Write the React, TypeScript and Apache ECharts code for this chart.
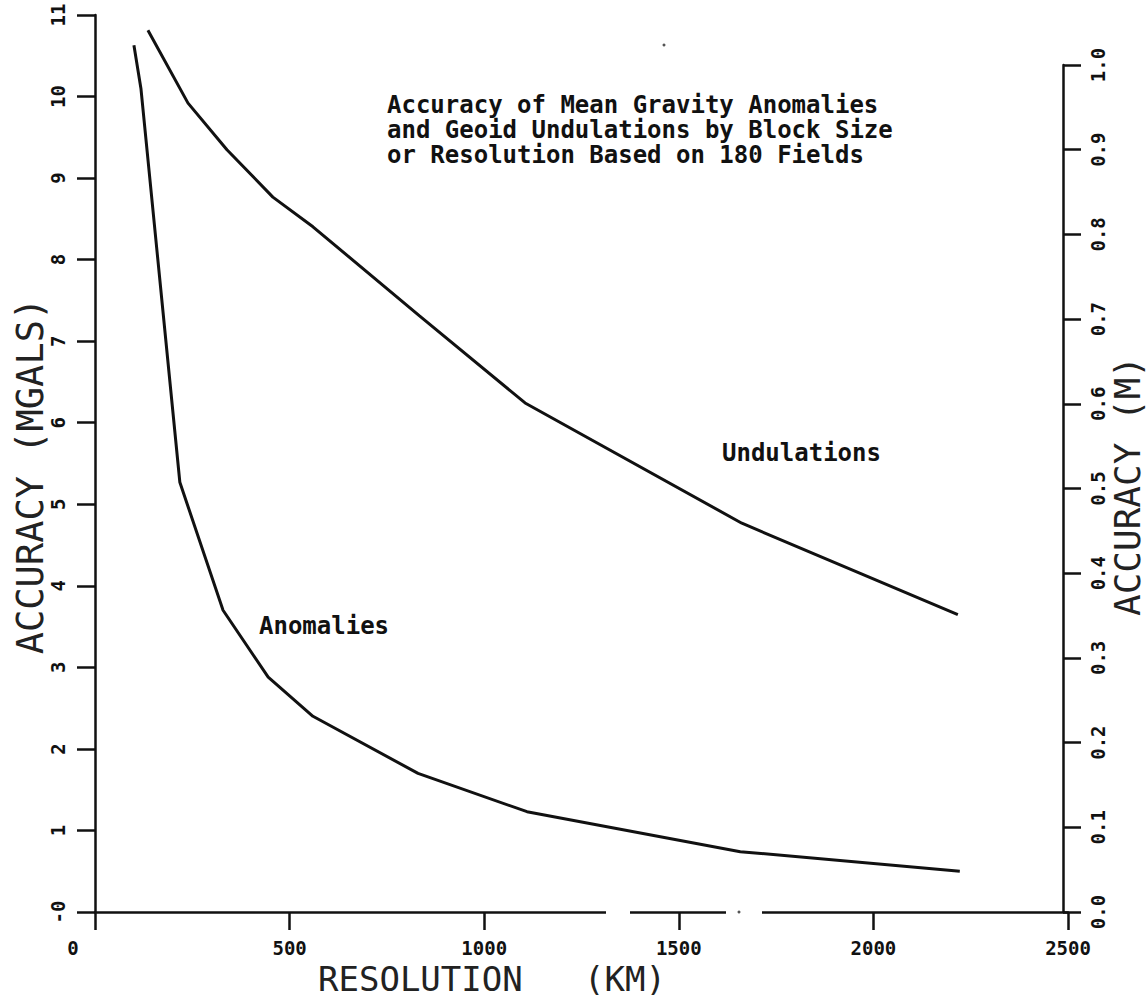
import React, { useEffect, useRef } from "react";
import * as echarts from "echarts";

// Resolution (km) and accuracy values
const anomalyKm = [100, 118, 218, 329, 445, 560, 830, 1110, 1658, 2222];
const anomalyMgal = [10.63, 10.1, 5.27, 3.7, 2.88, 2.4, 1.7, 1.23, 0.74, 0.5];

const undulationKm = [136, 239, 339, 457, 560, 833, 1105, 1662, 2217];
const undulationM = [1.041, 0.955, 0.9, 0.844, 0.809, 0.704, 0.601, 0.459, 0.351];

const xTicks = [0, 500, 1000, 1500, 2000, 2500];
const titleLines = [
  "Accuracy of Mean Gravity Anomalies",
  "and Geoid Undulations by Block Size",
  "or Resolution Based on 180 Fields",
];

const INK = "#111";
const MONO = "'DejaVu Sans Mono', monospace";

export default function App() {
  const ref = useRef<HTMLDivElement>(null);
  useEffect(() => {
    if (!ref.current) return;
    const chart = echarts.init(ref.current, null, { renderer: "svg" });
    const axisLine = { show: true, onZero: false, lineStyle: { color: INK, width: 2.5 } };
    const axisTick = { show: true, inside: false, length: 18, lineStyle: { color: INK, width: 2.5 } };
    const tickFont = { fontFamily: MONO, fontWeight: "bold" as const, fontSize: 19, color: INK };
    chart.setOption({
      animation: false,
      backgroundColor: "#fff",
      grid: [
        { left: 95, right: 78, top: 15, bottom: 86, containLabel: false, outerBoundsMode: "none" },
        { left: 95, right: 78, top: 65, bottom: 86, containLabel: false, outerBoundsMode: "none" },
      ],
      xAxis: [
        {
          type: "value",
          gridIndex: 0,
          min: xTicks[0],
          max: xTicks[xTicks.length - 1],
          interval: 500,
          axisLine,
          axisTick,
          splitLine: { show: false },
          axisLabel: {
            ...tickFont,
            margin: 26,
            formatter: (v: number) => (v === 0 ? "{min|0}" : String(v)),
            rich: { min: { ...tickFont, padding: [0, 44, 0, 0] } },
          },
        },
        { type: "value", gridIndex: 1, min: 0, max: 2500, show: false },
      ],
      yAxis: [
        {
          type: "value",
          gridIndex: 0,
          position: "left",
          min: 0,
          max: 11,
          interval: 1,
          axisLine,
          axisTick,
          splitLine: { show: false },
          axisLabel: {
            ...tickFont,
            rotate: 90,
            margin: 28,
            formatter: (v: number) => (v === 0 ? "-0" : String(v)),
          },
        },
        {
          type: "value",
          gridIndex: 1,
          position: "right",
          offset: -5,
          min: 0,
          max: 1,
          interval: 0.1,
          axisLine,
          axisTick,
          splitLine: { show: false },
          axisLabel: {
            ...tickFont,
            rotate: 90,
            margin: 25,
            formatter: (v: number) => v.toFixed(1),
          },
        },
      ],
      graphic: [
        // breaks in the scanned x axis line
        { type: "rect", shape: { x: 606, y: 908, width: 24, height: 8 }, style: { fill: "#fff" }, z: 100 },
        { type: "rect", shape: { x: 726, y: 908, width: 36, height: 8 }, style: { fill: "#fff" }, z: 100 },
        { type: "circle", shape: { cx: 739, cy: 912, r: 1.5 }, style: { fill: "#555" }, z: 101 },
        { type: "circle", shape: { cx: 664, cy: 45, r: 1.5 }, style: { fill: "#555" }, z: 101 },
        {
          type: "text",
          left: 387,
          top: 92,
          style: {
            text: titleLines.join("\n"),
            font: `bold 24px ${MONO}`,
            lineHeight: 25,
            fill: INK,
          },
        },
        {
          type: "text",
          left: 722,
          top: 441,
          style: { text: "Undulations", font: `bold 24px ${MONO}`, fill: INK },
        },
        {
          type: "text",
          left: 259,
          top: 614,
          style: { text: "Anomalies", font: `bold 24px ${MONO}`, fill: INK },
        },
        {
          type: "text",
          x: 30,
          y: 476,
          rotation: Math.PI / 2,
          style: {
            text: "ACCURACY (MGALS)",
            font: `37px ${MONO}`,
            fill: "#222",
            align: "center",
            verticalAlign: "middle",
          },
        },
        {
          type: "text",
          x: 1127,
          y: 486,
          rotation: Math.PI / 2,
          style: {
            text: "ACCURACY (M)",
            font: `36px ${MONO}`,
            fill: "#222",
            align: "center",
            verticalAlign: "middle",
          },
        },
        {
          type: "text",
          x: 318,
          y: 979,
          style: {
            text: "RESOLUTION   (KM)",
            font: `34px ${MONO}`,
            fill: "#222",
            align: "left",
            verticalAlign: "middle",
          },
        },
      ],
      series: [
        {
          name: "Anomalies",
          type: "line",
          xAxisIndex: 0,
          yAxisIndex: 0,
          data: anomalyKm.map((x, i) => [x, anomalyMgal[i]]),
          symbol: "none",
          clip: false,
          lineStyle: { color: INK, width: 3 },
        },
        {
          name: "Undulations",
          type: "line",
          xAxisIndex: 1,
          yAxisIndex: 1,
          data: undulationKm.map((x, i) => [x, undulationM[i]]),
          symbol: "none",
          clip: false,
          lineStyle: { color: INK, width: 3 },
        },
      ],
    });
    return () => chart.dispose();
  }, []);
  return (
    <div
      ref={ref}
      style={{ position: "fixed", left: 0, top: 0, width: 1146, height: 998, background: "#fff" }}
    />
  );
}
